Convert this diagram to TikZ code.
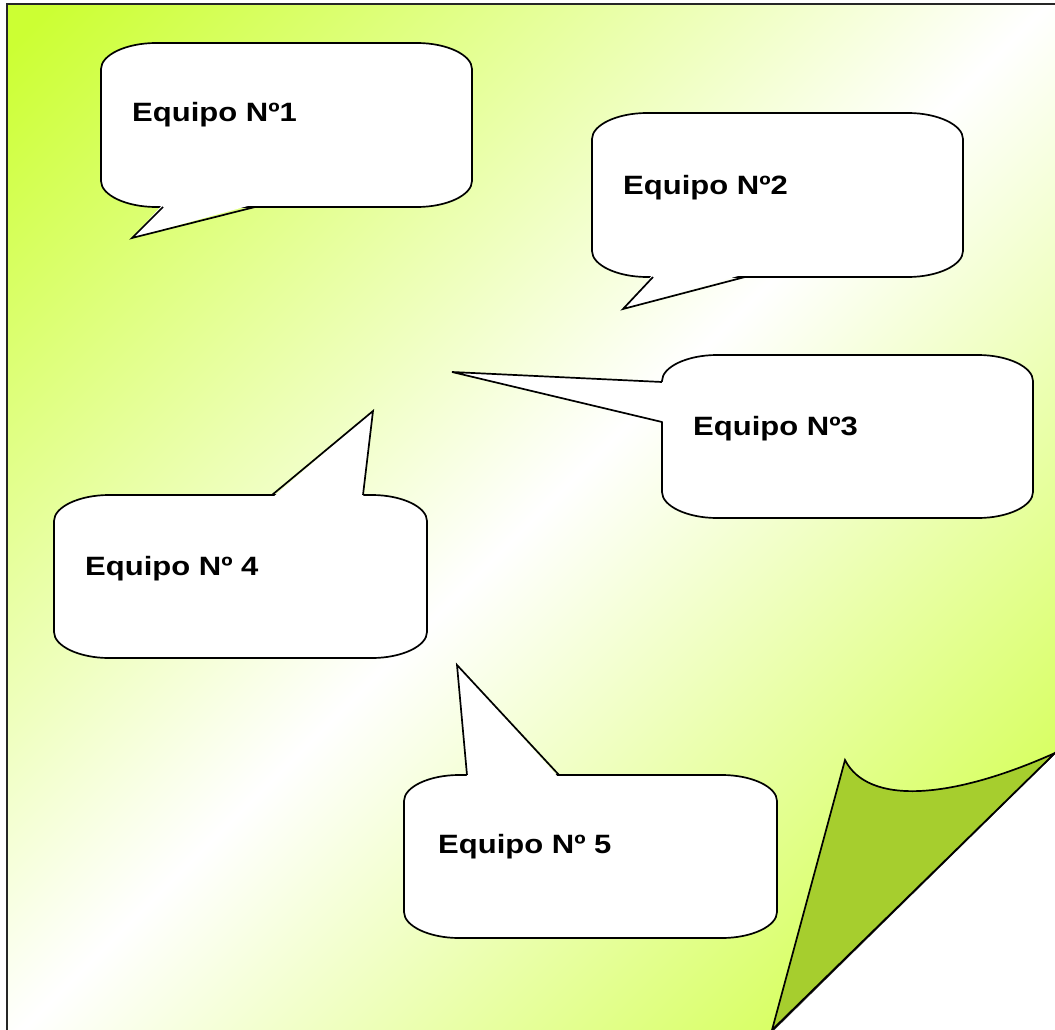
\documentclass[tikz,border=0pt]{standalone}
\usepackage{graphicx}
\usepackage{fontspec}
\setmainfont{Liberation Sans}
\definecolor{pagelime}{RGB}{204,255,51}
\definecolor{foldgreen}{RGB}{166,206,46}
\pgfdeclareverticalshading{pagegreen}{100bp}{color(0bp)=(pagelime); color(16bp)=(pagelime); color(50bp)=(white); color(84bp)=(pagelime); color(100bp)=(pagelime)}
% rounded callout body: left, top, right, bottom
\newcommand{\bubblebox}[4]{%
  \filldraw[bubble] (#1,#2+26) .. controls (#1,#2+12) and (#1+25,#2) .. (#1+55,#2)
    -- (#3-55,#2) .. controls (#3-25,#2) and (#3,#2+12) .. (#3,#2+26)
    -- (#3,#4-26) .. controls (#3,#4-12) and (#3-25,#4) .. (#3-55,#4)
    -- (#1+55,#4) .. controls (#1+25,#4) and (#1,#4-12) .. (#1,#4-26) -- cycle;}

\begin{document}
\begin{tikzpicture}[x=1pt,y=-1pt,
    bubble/.style={fill=white, draw=black, line width=1.7pt},
    tail/.style={draw=black, line width=1.7pt},
    equipo/.style={anchor=base west, inner sep=0pt, font=\fontsize{26.5pt}{30pt}\selectfont\bfseries}]
  \useasboundingbox (0,0) rectangle (1055,1030);
  \fill[white] (0,0) rectangle (1055,1030);

  % Page with gradient
  \shadedraw[shading=pagegreen, shading angle=45, draw=black!85, line width=1.8pt]
    (7,4) -- (1060,4) -- (1060,748) -- (769,1034) -- (7,1034) -- cycle;

  % Curled corner
  \filldraw[fill=foldgreen, draw=black, line width=1.7pt, line join=miter]
    (772,1030) -- (845,760) .. controls (868,805) and (950,800) .. (1055,753) -- cycle;

  % Bubble 1
  \bubblebox{101}{43}{472}{207}
  \fill[white] (163,204) -- (132,238) -- (255,204) -- cycle;
  \draw[tail] (163,207) -- (132,238) -- (255,207);
  \node[equipo] (eq1) at (132,122) {\scalebox{1.17}[1]{Equipo Nº1}};

  % Bubble 2
  \bubblebox{592}{113}{963}{277}
  \fill[white] (653,274) -- (623,309) -- (745,274) -- cycle;
  \draw[tail] (653,277) -- (623,309) -- (745,277);
  \node[equipo] (eq2) at (623,194) {\scalebox{1.17}[1]{Equipo Nº2}};

  % Bubble 3
  \bubblebox{662}{355}{1033}{518}
  \fill[white] (665,382) -- (452,372) -- (665,422) -- cycle;
  \draw[tail] (662,382) -- (452,372) -- (662,422);
  \node[equipo] (eq3) at (693,435) {\scalebox{1.17}[1]{Equipo Nº3}};

  % Bubble 4
  \bubblebox{54}{495}{427}{658}
  \fill[white] (272,498) -- (373,411) -- (363,498) -- cycle;
  \draw[tail] (272,495) -- (373,411) -- (363,495);
  \node[equipo] (eq4) at (85,575) {\scalebox{1.17}[1]{Equipo Nº 4}};

  % Bubble 5
  \bubblebox{404}{775}{777}{938}
  \fill[white] (467,778) -- (457,665) -- (559,778) -- cycle;
  \draw[tail] (467,775) -- (457,665) -- (559,775);
  \node[equipo] (eq5) at (438,853) {\scalebox{1.17}[1]{Equipo Nº 5}};
\end{tikzpicture}
\end{document}
